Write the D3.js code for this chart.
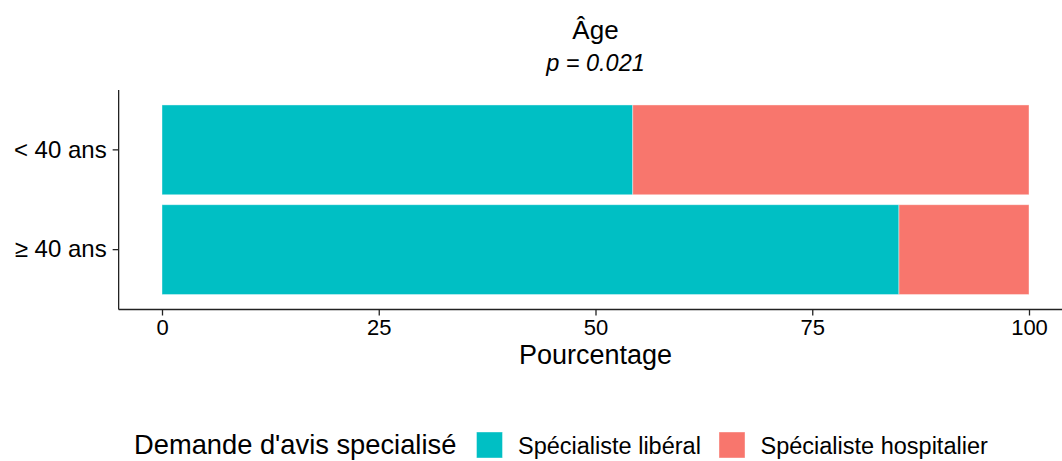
<!DOCTYPE html>
<html lang="fr">
<head>
<meta charset="utf-8">
<title>Âge</title>
<script src="https://d3js.org/d3.v7.min.js"></script>
<style>
  body { margin: 0; background: #fff; }
  text { font-family: "Liberation Sans", Arial, Helvetica, sans-serif; fill: #000; }
</style>
</head>
<body>
<script>
// data
var categories = ["< 40 ans", "\u2265 40 ans"];
var liberal = [54.3, 85.0];
var hospitalier = [45.7, 15.0];
var seriesNames = ["Spécialiste libéral", "Spécialiste hospitalier"];
var seriesColors = ["#00BFC4", "#F8766D"];
var xTicks = [0, 25, 50, 75, 100];

var w = 1062, h = 461;
var svg = d3.select("body").append("svg")
  .attr("width", w)
  .attr("height", h);

var panelTop = 90, panelBottom = 309.5;

var x = d3.scaleLinear()
  .domain([-5, 105])
  .range([118.65, 1072.35]);

var y = d3.scaleBand()
  .domain(categories)
  .range([panelTop, panelBottom])
  .paddingInner(0.1)
  .paddingOuter(0.15);

// stacked rows
var rows = categories.map(function(c, i) {
  return [
    { cat: c, s: 0, x0: 0, x1: liberal[i] },
    { cat: c, s: 1, x0: liberal[i], x1: liberal[i] + hospitalier[i] }
  ];
});

svg.append("g").selectAll("rect")
  .data(d3.merge(rows))
  .enter()
  .append("rect")
  .attr("x", function(d) { return x(d.x0); })
  .attr("y", function(d) { return y(d.cat); })
  .attr("width", function(d) { return x(d.x1) - x(d.x0); })
  .attr("height", y.bandwidth())
  .attr("fill", function(d) { return seriesColors[d.s]; })
  .attr("stroke", "#fff")
  .attr("stroke-opacity", 0.5)
  .attr("stroke-width", 0.8);

// axes
var xAxis = svg.append("g")
  .attr("transform", "translate(0," + panelBottom + ")")
  .call(d3.axisBottom(x).tickValues(xTicks).tickSize(6).tickPadding(4));
xAxis.select(".domain").attr("d", "M" + x(-5) + ",0H" + x(105));

var yAxis = svg.append("g")
  .attr("transform", "translate(" + x(-5) + ",0)")
  .call(d3.axisLeft(y).tickSize(6).tickPadding(6));
yAxis.select(".domain").attr("d", "M0," + panelTop + "V" + panelBottom);

svg.selectAll(".domain, .tick line")
  .attr("stroke", "#222")
  .attr("stroke-width", 1.3);
xAxis.selectAll(".tick text")
  .attr("font-size", "22px");
yAxis.selectAll(".tick text")
  .attr("font-size", "24px");
svg.selectAll(".tick text")
  .attr("font-family", "Liberation Sans, Arial, sans-serif")
  .attr("fill", "#000");

var cx = (x(-5) + x(105)) / 2;

// titles
svg.append("text")
  .attr("x", cx)
  .attr("y", 39)
  .attr("text-anchor", "middle")
  .attr("font-size", "26px")
  .text("Âge");

svg.append("text")
  .attr("x", cx)
  .attr("y", 71)
  .attr("text-anchor", "middle")
  .attr("font-size", "23.5px")
  .attr("font-style", "italic")
  .text("p = 0.021");

svg.append("text")
  .attr("x", cx)
  .attr("y", 364)
  .attr("text-anchor", "middle")
  .attr("font-size", "27px")
  .text("Pourcentage");

// legend
var legend = svg.append("g");
legend.append("text")
  .attr("x", 134)
  .attr("y", 454)
  .attr("font-size", "27.3px")
  .text("Demande d'avis specialisé");

var keyX = [476.5, 719];
seriesNames.forEach(function(name, i) {
  legend.append("rect")
    .attr("x", keyX[i])
    .attr("y", 432)
    .attr("width", 26)
    .attr("height", 26)
    .attr("fill", seriesColors[i])
    .attr("stroke", "#fff")
    .attr("stroke-opacity", 0.5)
    .attr("stroke-width", 0.8);
  legend.append("text")
    .attr("x", keyX[i] + 41.5)
    .attr("y", 454)
    .attr("font-size", "23.5px")
    .text(name);
});
</script>
</body>
</html>
